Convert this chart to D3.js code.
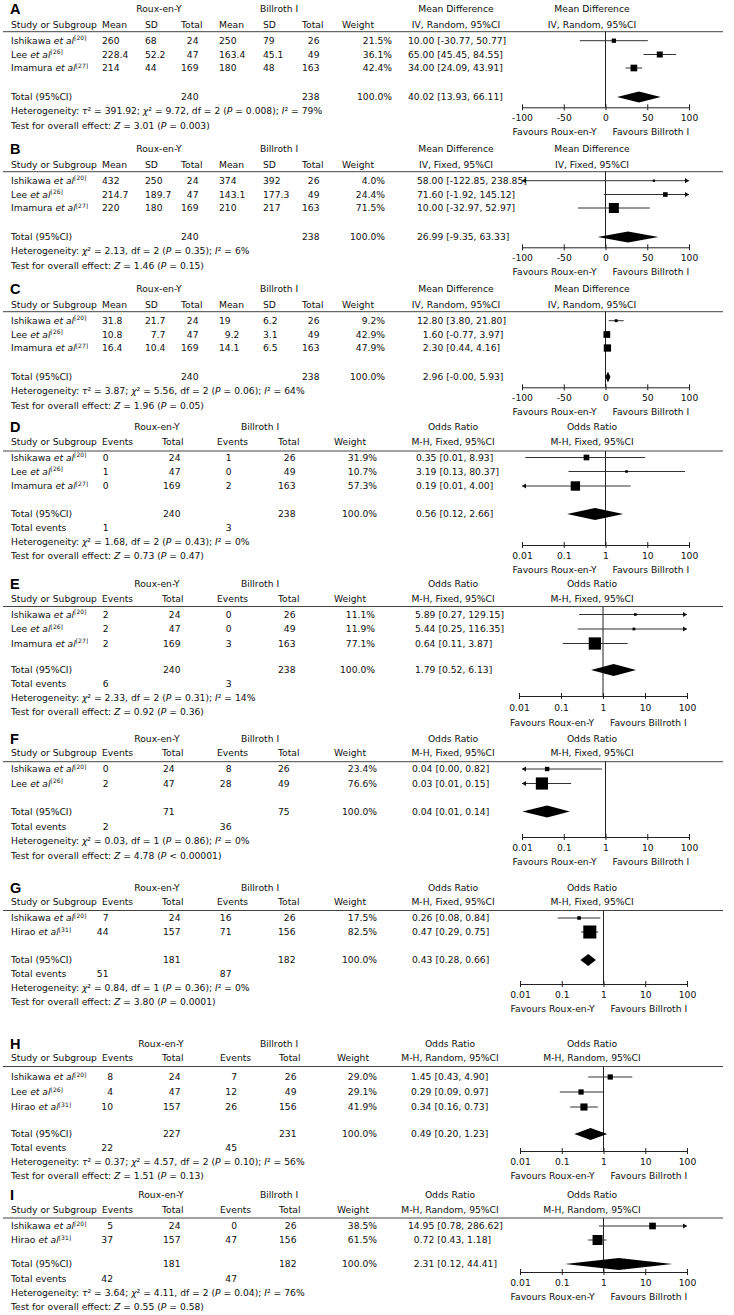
<!DOCTYPE html>
<html><head><meta charset="utf-8">
<script src="https://cdn.jsdelivr.net/npm/d3@7"></script>
<style>
body{margin:0;background:#fff;}
svg text{font-family:"DejaVu Sans",sans-serif;font-size:9.2px;fill:#111;}
svg text.letter{font-family:"Liberation Sans",Arial,sans-serif;font-weight:bold;font-size:14.5px;fill:#000;}
</style></head><body>
<script>
// ---------------- DATA ----------------
const panelLetters = ["A","B","C","D","E","F","G","H","I"];
const effectMeasure = ["Mean Difference","Mean Difference","Mean Difference","Odds Ratio","Odds Ratio","Odds Ratio","Odds Ratio","Odds Ratio","Odds Ratio"];
const effectMethod = ["IV, Random, 95%CI","IV, Fixed, 95%CI","IV, Random, 95%CI","M-H, Fixed, 95%CI","M-H, Fixed, 95%CI","M-H, Fixed, 95%CI","M-H, Fixed, 95%CI","M-H, Random, 95%CI","M-H, Random, 95%CI"];
const groupLabels = ["Roux-en-Y","Billroth \u2160"];
const favourLabels = ["Favours Roux-en-Y","Favours Billroth \u2160"];
const mdTicks = [-100,-50,0,50,100];
const orTicks = [0.01,0.1,1,10,100];

const studyRefs = {Ishikawa:20, Lee:26, Imamura:27, Hirao:31};
const studiesByPanel = [
  ["Ishikawa","Lee","Imamura"],["Ishikawa","Lee","Imamura"],["Ishikawa","Lee","Imamura"],
  ["Ishikawa","Lee","Imamura"],["Ishikawa","Lee","Imamura"],["Ishikawa","Lee"],
  ["Ishikawa","Hirao"],["Ishikawa","Lee","Hirao"],["Ishikawa","Hirao"]];

// continuous outcomes (A-C)
const meanRY = [[260,228.4,214],[432,214.7,220],[31.8,10.8,16.4]];
const sdRY   = [[68,52.2,44],[250,189.7,180],[21.7,7.7,10.4]];
const nRY    = [[24,47,169],[24,47,169],[24,47,169]];
const meanBI = [[250,163.4,180],[374,143.1,210],[19,9.2,14.1]];
const sdBI   = [[79,45.1,48],[392,177.3,217],[6.2,3.1,6.5]];
const nBI    = [[26,49,163],[26,49,163],[26,49,163]];

// dichotomous outcomes (D-I)
const eventsRY = [[0,1,0],[2,2,2],[0,2],[7,44],[8,4,10],[5,37]];
const totalRY  = [[24,47,169],[24,47,169],[24,47],[24,157],[24,47,157],[24,157]];
const eventsBI = [[1,0,2],[0,0,3],[8,28],[16,71],[7,12,26],[0,47]];
const totalBI  = [[26,49,163],[26,49,163],[26,49],[26,156],[26,49,156],[26,156]];
const totalEventsRY = [1,6,2,51,22,42];
const totalEventsBI = [3,3,36,87,45,47];

const sumRY = [240,240,240,240,240,71,181,227,181];
const sumBI = [238,238,238,238,238,75,182,231,182];

const weights = [[21.5,36.1,42.4],[4.0,24.4,71.5],[9.2,42.9,47.9],[31.9,10.7,57.3],[11.1,11.9,77.1],[23.4,76.6],[17.5,82.5],[29.0,29.1,41.9],[38.5,61.5]];
const estimates = [[10.00,65.00,34.00],[58.00,71.60,10.00],[12.80,1.60,2.30],[0.35,3.19,0.19],[5.89,5.44,0.64],[0.04,0.03],[0.26,0.47],[1.45,0.29,0.34],[14.95,0.72]];
const ciLower = [[-30.77,45.45,24.09],[-122.85,-1.92,-32.97],[3.80,-0.77,0.44],[0.012,0.13,0.009],[0.27,0.25,0.11],[0.002,0.007],[0.08,0.29],[0.43,0.09,0.16],[0.78,0.43]];
const ciUpper = [[50.77,84.55,43.91],[238.85,145.12,52.97],[21.80,3.97,4.16],[8.93,80.37,4.00],[129.15,116.35,3.87],[0.82,0.15],[0.84,0.75],[4.90,0.97,0.73],[286.62,1.18]];
const pooledEst   = [40.02,26.99,2.96,0.56,1.79,0.04,0.43,0.49,2.31];
const pooledLower = [13.93,-9.35,-0.004,0.12,0.52,0.0102,0.28,0.20,0.12];
const pooledUpper = [66.11,63.33,5.93,2.66,6.13,0.14,0.66,1.23,44.41];

const hetTexts = [
  "Heterogeneity: *\u03c4*\u00b2 = 391.92; *\u03c7*\u00b2 = 9.72, df = 2 (*P* = 0.008); *I*\u00b2 = 79%",
  "Heterogeneity: *\u03c7*\u00b2 = 2.13, df = 2 (*P* = 0.35); *I*\u00b2 = 6%",
  "Heterogeneity: *\u03c4*\u00b2 = 3.87; *\u03c7*\u00b2 = 5.56, df = 2 (*P* = 0.06); *I*\u00b2 = 64%",
  "Heterogeneity: *\u03c7*\u00b2 = 1.68, df = 2 (*P* = 0.43); *I*\u00b2 = 0%",
  "Heterogeneity: *\u03c7*\u00b2 = 2.33, df = 2 (*P* = 0.31); *I*\u00b2 = 14%",
  "Heterogeneity: *\u03c7*\u00b2 = 0.03, df = 1 (*P* = 0.86); *I*\u00b2 = 0%",
  "Heterogeneity: *\u03c7*\u00b2 = 0.84, df = 1 (*P* = 0.36); *I*\u00b2 = 0%",
  "Heterogeneity: *\u03c4*\u00b2 = 0.37; *\u03c7*\u00b2 = 4.57, df = 2 (*P* = 0.10); *I*\u00b2 = 56%",
  "Heterogeneity: *\u03c4*\u00b2 = 3.64; *\u03c7*\u00b2 = 4.11, df = 2 (*P* = 0.04); *I*\u00b2 = 76%"];
const testTexts = [
  "Test for overall effect: *Z* = 3.01 (*P* = 0.003)",
  "Test for overall effect: *Z* = 1.46 (*P* = 0.15)",
  "Test for overall effect: *Z* = 1.96 (*P* = 0.05)",
  "Test for overall effect: *Z* = 0.73 (*P* = 0.47)",
  "Test for overall effect: *Z* = 0.92 (*P* = 0.36)",
  "Test for overall effect: *Z* = 4.78 (*P* < 0.00001)",
  "Test for overall effect: *Z* = 3.80 (*P* = 0.0001)",
  "Test for overall effect: *Z* = 1.51 (*P* = 0.13)",
  "Test for overall effect: *Z* = 0.55 (*P* = 0.58)"];

// ---------------- LAYOUT ----------------
const layout = [
  {h1:9,h2:24.5,rule:31.7,rows:[40.7,54.5,68],total:97,het:111,test:126,axis:107.3,ticks:117.5,fav:131.7,xr:[522,689],wRight:392,estLeft:408},
  {h1:149,h2:164.5,rule:171.7,rows:[180.7,194.5,208],total:237,het:251,test:266,axis:247.3,ticks:257.5,fav:271.7,xr:[522,689],wRight:385,estLeft:417},
  {h1:289,h2:304.5,rule:311.7,rows:[320.7,334.5,348],total:377,het:391,test:406,axis:387.3,ticks:397.5,fav:411.7,xr:[522,689],wRight:385,estLeft:417},
  {h1:427,h2:442,rule:451,rows:[457.5,471.5,486],total:514,te:528,het:542,test:556,axis:545,ticks:556,fav:570,xr:[522,689],wRight:377,estLeft:416},
  {h1:584,h2:599,rule:606.5,rows:[614.5,629,643.5],total:670,te:684,het:698,test:712,axis:696,ticks:708,fav:723,xr:[519,687],wRight:375,estLeft:415},
  {h1:739,h2:753,rule:761.7,rows:[769,783.5],total:811.5,te:826.5,het:841,test:856,axis:837,ticks:847.5,fav:862,xr:[522,689],wRight:377,estLeft:412},
  {h1:888,h2:902,rule:910.5,rows:[918,932],total:960,te:974,het:988,test:1002,axis:984,ticks:994.5,fav:1009,xr:[520,687],wRight:377,estLeft:412},
  {h1:1044,h2:1058,rule:1066.5,rows:[1077,1092,1107],total:1134,te:1148,het:1162,test:1176,axis:1151,ticks:1161.5,fav:1176,xr:[520,687],wRight:377,estLeft:411},
  {h1:1195,h2:1210,rule:1218,rows:[1226,1240],total:1264,te:1279,het:1293,test:1307,axis:1272,ticks:1283,fav:1297,xr:[520,687],wRight:377,estLeft:408}
];
const colMD = {meanRY:102,sdRY:145,nRY:181,meanBI:219,sdBI:263,nBI:302,weightHead:342,grpRY:159,grpBI:279,effHead:456};
const colOR = {evHead1:102,totHead1:162,evHead2:217,totHead2:278,weightHead:334,evRYRight:108.5,nRYLeft:163,evBIRight:231.5,nBILeft:278,grpRY:157,grpBI:260,effHead:453};
const colOR2 = {evHead1:102,totHead1:162,evHead2:220,totHead2:279,weightHead:337,evRYRight:113,nRYLeft:163,evBIRight:237,nBILeft:279,grpRY:161,grpBI:279,effHead:450};

// ---------------- DRAW ----------------
const svg = d3.select("body").append("svg").attr("width",734).attr("height",1315);
svg.append("rect").attr("width",734).attr("height",1315).attr("fill","#fff");
const probe = svg.append("text").text("0000000000");
const dw = probe.node().getComputedTextLength()/10;
probe.remove();

const fmt2 = v => v.toFixed(2);
const ciStr = (e,l,h) => `${fmt2(e)} [${fmt2(l)}, ${fmt2(h)}]`;

function txt(g,x,y,s,anchor){
  return g.append("text").attr("x",x).attr("y",y).attr("dy","0.35em").attr("text-anchor",anchor||"start").text(s);
}
function rich(g,x,y,s){
  const t = g.append("text").attr("x",x).attr("y",y).attr("dy","0.35em");
  s.split("*").forEach((part,k)=>{ if(part.length) t.append("tspan").attr("font-style",k%2?"italic":null).text(part); });
  return t;
}
function studyLabel(g,x,y,name){
  const t = g.append("text").attr("x",x).attr("y",y).attr("dy","0.35em");
  t.append("tspan").text(name+" ");
  t.append("tspan").attr("font-style","italic").text("et al");
  t.append("tspan").attr("font-size","6px").attr("dy","-3.6").text("["+studyRefs[name]+"]");
}
// decimal-aligned column
function alignCol(g, items, opt){
  const ints = items.map(d => d.s.split(".")[0].length);
  const right = opt.right != null ? opt.right : opt.left + d3.max(ints)*dw;
  items.forEach((d,k)=> txt(g, right - ints[k]*dw, d.y, d.s));
}

panelLetters.forEach((letter,i)=>{
  const L = layout[i], isMD = i < 3, g = svg.append("g");
  const C = isMD ? colMD : (i >= 7 ? colOR2 : colOR);
  const studies = studiesByPanel[i];
  const ys = L.rows;

  g.append("text").attr("class","letter").attr("x",10).attr("y",L.h1).attr("dy","0.36em").text(letter);
  txt(g,C.grpRY,L.h1,groupLabels[0],"middle");
  txt(g,C.grpBI,L.h1,groupLabels[1],"middle");
  txt(g,11,L.h2,"Study or Subgroup");
  if(isMD){
    txt(g,C.meanRY,L.h2,"Mean"); txt(g,C.sdRY,L.h2,"SD"); txt(g,C.nRY,L.h2,"Total");
    txt(g,C.meanBI,L.h2,"Mean"); txt(g,C.sdBI,L.h2,"SD"); txt(g,C.nBI,L.h2,"Total");
  } else {
    txt(g,C.evHead1,L.h2,"Events"); txt(g,C.totHead1,L.h2,"Total");
    txt(g,C.evHead2,L.h2,"Events"); txt(g,C.totHead2,L.h2,"Total");
  }
  txt(g,C.weightHead,L.h2,"Weight");
  txt(g,C.effHead,L.h1,effectMeasure[i],"middle");
  txt(g,C.effHead,L.h2,effectMethod[i],"middle");
  txt(g,592,L.h1,effectMeasure[i],"middle");
  txt(g,592,L.h2,effectMethod[i],"middle");
  g.append("line").attr("x1",3).attr("x2",723).attr("y1",L.rule).attr("y2",L.rule).attr("stroke","#444").attr("stroke-width",1);

  studies.forEach((s,k)=> studyLabel(g,11,ys[k],s));
  txt(g,11,L.total,"Total (95%CI)");
  if(!isMD) txt(g,11,L.te,"Total events");
  rich(g,11,L.het,hetTexts[i]);
  rich(g,11,L.test,testTexts[i]);

  const col = (arr, extra) => arr.map((v,k)=>({s:String(v), y:ys[k]})).concat(extra||[]);
  if(isMD){
    alignCol(g, col(meanRY[i]), {left:C.meanRY});
    alignCol(g, col(sdRY[i]), {left:C.sdRY});
    alignCol(g, col(nRY[i],[{s:String(sumRY[i]),y:L.total}]), {left:C.nRY});
    alignCol(g, col(meanBI[i]), {left:C.meanBI});
    alignCol(g, col(sdBI[i]), {left:C.sdBI});
    alignCol(g, col(nBI[i],[{s:String(sumBI[i]),y:L.total}]), {left:C.nBI});
  } else {
    const j = i - 3;
    alignCol(g, col(eventsRY[j],[{s:String(totalEventsRY[j]),y:L.te}]), {right:C.evRYRight});
    alignCol(g, col(totalRY[j],[{s:String(sumRY[i]),y:L.total}]), {left:C.nRYLeft});
    alignCol(g, col(eventsBI[j],[{s:String(totalEventsBI[j]),y:L.te}]), {right:C.evBIRight});
    alignCol(g, col(totalBI[j],[{s:String(sumBI[i]),y:L.total}]), {left:C.nBILeft});
  }
  weights[i].forEach((w,k)=> txt(g,L.wRight,ys[k],w.toFixed(1)+"%","end"));
  txt(g,L.wRight,L.total,"100.0%","end");
  const effItems = estimates[i].map((e,k)=>({s:ciStr(e,ciLower[i][k],ciUpper[i][k]), y:ys[k]}))
    .concat([{s:ciStr(pooledEst[i],pooledLower[i],pooledUpper[i]), y:L.total}]);
  alignCol(g, effItems, {left:L.estLeft});

  // ---- plot ----
  const x = isMD ? d3.scaleLinear().domain([-100,100]).range(L.xr)
                 : d3.scaleLog().domain([0.01,100]).range(L.xr);
  const [dmin,dmax] = x.domain();
  const nullV = isMD ? 0 : 1;
  const side = isMD ? d3.scaleLinear().domain([0,100]).range([1.84,13.24])
                    : d3.scaleLinear().domain([0,100]).range([1.0,15.6]);
  g.append("line").attr("x1",x(nullV)).attr("x2",x(nullV)).attr("y1",L.rule).attr("y2",L.axis).attr("stroke","#222");

  estimates[i].forEach((e,k)=>{
    const lo = ciLower[i][k], hi = ciUpper[i][k], y = ys[k];
    const x1 = x(Math.max(lo,dmin)), x2 = x(Math.min(hi,dmax));
    g.append("line").attr("x1",x1).attr("x2",x2).attr("y1",y).attr("y2",y).attr("stroke","#333").attr("stroke-width",1);
    if(lo < dmin) g.append("path").attr("d",`M${x1},${y}L${x1+4},${y-2.6}L${x1+4},${y+2.6}Z`).attr("fill","#111");
    if(hi > dmax) g.append("path").attr("d",`M${x2},${y}L${x2-4},${y-2.6}L${x2-4},${y+2.6}Z`).attr("fill","#111");
    const s = side(weights[i][k]);
    g.append("rect").attr("x",x(e)-s/2).attr("y",y-s/2).attr("width",s).attr("height",s).attr("fill","#000");
  });
  const dh = isMD ? 5.5 : 6;
  const yt = L.total;
  g.append("path").attr("d",`M${x(pooledLower[i])},${yt}L${x(pooledEst[i])},${yt-dh}L${x(pooledUpper[i])},${yt}L${x(pooledEst[i])},${yt+dh}Z`).attr("fill","#000");

  const ax = d3.axisBottom(x).tickValues(isMD ? mdTicks : orTicks).tickFormat(d=>String(d)).tickSizeInner(3).tickSizeOuter(0);
  const ag = g.append("g").attr("transform",`translate(0,${L.axis})`).call(ax);
  ag.attr("font-family",null).attr("font-size",null);
  ag.select(".domain").attr("stroke","#222");
  ag.selectAll(".tick line").attr("y1",-3).attr("y2",3).attr("stroke","#222");
  ag.selectAll(".tick text").attr("y",L.ticks-L.axis).attr("dy","0.35em").attr("fill","#111");

  txt(g,x(nullV)-9,L.fav,favourLabels[0],"end");
  txt(g,x(nullV)+7,L.fav,favourLabels[1],"start");
});
</script></body></html>
